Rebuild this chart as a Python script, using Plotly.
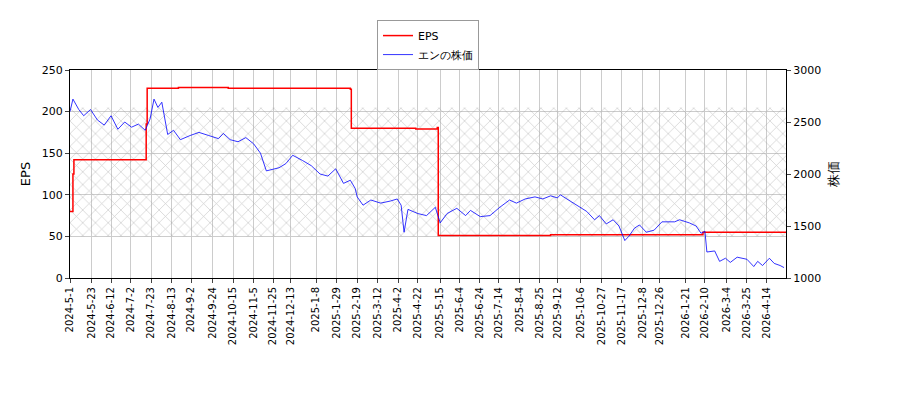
import plotly.graph_objects as go

eps_dates = ["2024-05-01","2024-05-04","2024-05-05","2024-07-18","2024-07-19","2024-08-20","2024-10-10","2024-12-20","2025-02-12","2025-02-13","2025-03-10","2025-04-20","2025-05-12","2025-05-13","2025-09-05","2026-02-08","2026-05-04"]
eps_vals = [80,125,142,185,228,229,228,228,227,180,180,179,181,51,52,55,55]

px_dates = ["2024-05-01","2024-05-04","2024-05-10","2024-05-15","2024-05-22","2024-05-29","2024-06-05","2024-06-12","2024-06-19","2024-06-26","2024-07-03","2024-07-10","2024-07-17","2024-07-22","2024-07-26","2024-07-30","2024-08-03","2024-08-09","2024-08-15","2024-08-22","2024-09-01","2024-09-10","2024-09-20","2024-09-30","2024-10-05","2024-10-12","2024-10-20","2024-10-28","2024-11-05","2024-11-12","2024-11-18","2024-12-01","2024-12-08","2024-12-15","2024-12-25","2025-01-03","2025-01-12","2025-01-20","2025-01-28","2025-02-05","2025-02-12","2025-02-17","2025-02-19","2025-02-25","2025-03-05","2025-03-15","2025-03-25","2025-04-01","2025-04-05","2025-04-08","2025-04-12","2025-04-22","2025-05-01","2025-05-10","2025-05-15","2025-05-22","2025-06-01","2025-06-10","2025-06-15","2025-06-25","2025-07-05","2025-07-15","2025-07-25","2025-08-01","2025-08-10","2025-08-20","2025-08-28","2025-09-05","2025-09-12","2025-09-15","2025-09-25","2025-10-05","2025-10-12","2025-10-20","2025-10-25","2025-11-01","2025-11-08","2025-11-14","2025-11-20","2025-11-24","2025-11-30","2025-12-05","2025-12-12","2025-12-20","2025-12-28","2026-01-10","2026-01-15","2026-01-25","2026-02-01","2026-02-06","2026-02-10","2026-02-12","2026-02-20","2026-02-25","2026-03-03","2026-03-08","2026-03-15","2026-03-25","2026-04-01","2026-04-05","2026-04-10","2026-04-17","2026-04-22","2026-04-28","2026-05-02"]
px_vals = [2600,2720,2620,2560,2620,2520,2470,2560,2430,2500,2450,2480,2420,2530,2720,2640,2690,2380,2420,2330,2370,2400,2370,2340,2390,2330,2310,2350,2290,2200,2030,2060,2100,2180,2130,2080,2000,1980,2050,1910,1940,1860,1780,1700,1750,1720,1740,1760,1700,1440,1660,1620,1600,1680,1530,1620,1670,1600,1650,1590,1600,1680,1750,1720,1760,1780,1760,1790,1770,1800,1740,1680,1640,1560,1600,1520,1560,1500,1360,1400,1480,1510,1440,1460,1540,1540,1560,1530,1500,1430,1450,1250,1260,1160,1190,1150,1200,1180,1110,1160,1120,1190,1140,1120,1100]

tick_dates = ["2024-05-01","2024-05-23","2024-06-12","2024-07-02","2024-07-23","2024-08-13","2024-09-02","2024-09-24","2024-10-15","2024-11-05","2024-11-25","2024-12-13","2025-01-08","2025-01-29","2025-02-19","2025-03-12","2025-04-02","2025-04-22","2025-05-15","2025-06-04","2025-06-24","2025-07-14","2025-08-04","2025-08-25","2025-09-12","2025-10-06","2025-10-27","2025-11-17","2025-12-08","2025-12-26","2026-01-21","2026-02-10","2026-03-04","2026-03-25","2026-04-14"]
tick_text = ["-".join([d[:4], str(int(d[5:7])), str(int(d[8:]))]) for d in tick_dates]

band_x = ["2024-05-01","2026-05-04","2026-05-04","2024-05-01","2024-05-01"]
band_y = [50,50,205,205,50]

fig = go.Figure()
fig.add_trace(go.Scatter(x=band_x, y=band_y, fill="toself", mode="none", showlegend=False,
    fillcolor="rgba(0,0,0,0)", hoverinfo="skip",
    fillpattern=dict(shape="x", fgcolor="#999999", bgcolor="rgba(0,0,0,0)", size=9, solidity=0.15)))
fig.add_trace(go.Scatter(x=eps_dates, y=eps_vals, mode="lines", name="EPS",
    line=dict(color="red", width=1.5, shape="hv")))
fig.add_trace(go.Scatter(x=px_dates, y=px_vals, mode="lines", name="エンの株価",
    line=dict(color="blue", width=0.8), yaxis="y2"))

fig.update_layout(
    width=900, height=400, plot_bgcolor="white", paper_bgcolor="white",
    margin=dict(l=62, r=122, t=60, b=130),
    font=dict(family="DejaVu Sans", size=11, color="black"),
    legend=dict(x=0.5, y=1.24, xanchor="center", yanchor="top", bordercolor="#999", borderwidth=1,
                bgcolor="white", tracegroupgap=0, itemwidth=30, font=dict(size=11)),
    xaxis=dict(range=["2024-05-01","2026-05-04"], tickvals=tick_dates, ticktext=tick_text, tickangle=-90,
               showgrid=True, gridcolor="#cccccc", showline=True, linecolor="black", mirror=True,
               ticks="outside", ticklen=4, tickfont=dict(size=10), automargin=False),
    yaxis=dict(range=[0,250], dtick=50, title=dict(text="EPS", standoff=8), showgrid=True, gridcolor="#cccccc",
               showline=True, linecolor="black", ticks="outside", ticklen=4, zeroline=False, automargin=False),
    yaxis2=dict(range=[1000,3000], dtick=500, overlaying="y", side="right", title=dict(text="株価", standoff=8),
                showgrid=False, showline=True, linecolor="black", ticks="outside", ticklen=4, zeroline=False,
                automargin=False),
)
fig.write_html("out.html")
